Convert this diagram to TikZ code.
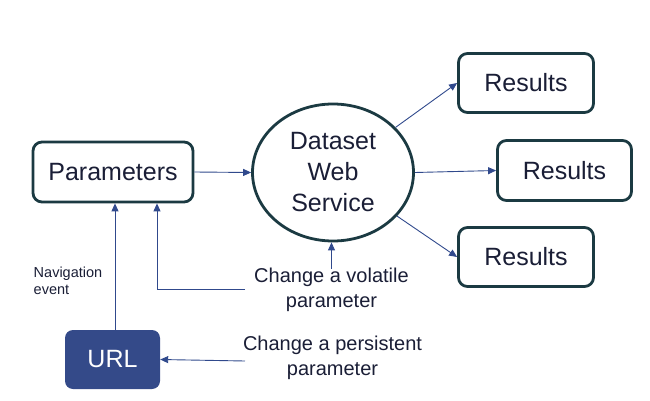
\documentclass[tikz,border=0pt]{standalone}
\usepackage{fontspec}
\setmainfont{Liberation Sans}
\usetikzlibrary{arrows.meta,shapes.geometric}
\definecolor{boxline}{HTML}{1B3A42}
\definecolor{txt}{HTML}{1A1E36}
\definecolor{arr}{HTML}{30498C}
\definecolor{urlfill}{HTML}{344A89}
\tikzset{
  box/.style={draw=boxline, line width=2.8pt, rounded corners=9pt, fill=white, text=txt,
    font=\fontsize{25}{31}\selectfont, inner sep=0pt},
  urlbox/.style={fill=urlfill, rounded corners=8pt, text=white,
    font=\fontsize{25}{31}\selectfont, inner sep=0pt},
  svc/.style={ellipse, draw=boxline, line width=2.8pt, fill=white, text=txt, align=center,
    font=\fontsize{25}{31}\selectfont, inner sep=0pt},
  lbl/.style={text=txt, align=center, font=\fontsize{20}{24.5}\selectfont, inner sep=0pt},
  small/.style={text=txt, align=left, font=\fontsize{14.5}{17.5}\selectfont, inner sep=0pt},
  conn/.style={draw=arr, line width=0.9pt, -{Triangle[length=8pt,width=7pt]}}
}
\begin{document}
\begin{tikzpicture}[x=1pt,y=-1pt]
\useasboundingbox (0,0) rectangle (650,401);
\node[box, minimum width=160pt, minimum height=60pt] (P) at (113,172) {Parameters};
\node[urlbox, minimum width=95pt, minimum height=59pt] (U) at (112.5,359.5) {URL};
\node[svc, minimum width=161pt, minimum height=137pt] (E) at (333,172.5) {Dataset\\Web\\Service};
\node[box, minimum width=135pt, minimum height=59pt] (R1) at (526,83) {Results};
\node[box, minimum width=134pt, minimum height=60pt] (R2) at (564.5,170.5) {Results};
\node[box, minimum width=135pt, minimum height=59pt] (R3) at (526,257) {Results};
\node[lbl] (V) at (331.5,290) {Change a volatile\\parameter};
\node[lbl] (S) at (332.5,358) {Change a persistent\\parameter};
\node[small] (N) at (68,281) {Navigation\\event};
\coordinate (vstart) at (245,289);
\coordinate (pstart) at (245,361);
\draw[conn] (P.east) -- (E.west);
\draw[conn] (E) -- (R1.west);
\draw[conn] (E.east) -- (R2.west);
\draw[conn] (E) -- (R3.west);
\draw[conn] ([yshift=-1pt]V.north) -- (V.north |- E.south);
\draw[conn] (vstart) -| ([xshift=44pt]P.south);
\draw[conn] (U.north -| 115,0) -- (P.south -| 115,0);
\draw[conn] (pstart) -- (U.east);
\end{tikzpicture}
\end{document}
